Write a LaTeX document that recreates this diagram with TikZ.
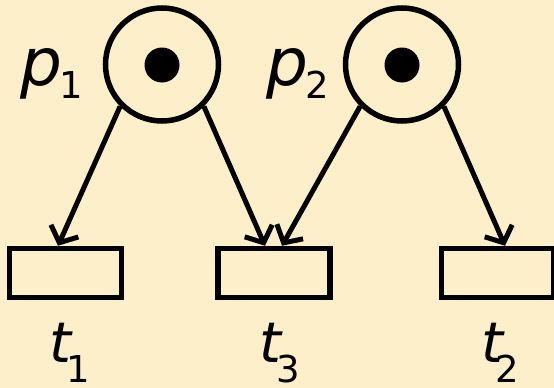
\documentclass[tikz,border=0pt]{standalone}
\usepackage{fontspec}
\setmainfont{DejaVu Sans}
\usetikzlibrary{arrows.meta}
\definecolor{bg}{RGB}{253,239,201}
\begin{document}
\begin{tikzpicture}[x=1pt,y=-1pt,
  place/.style={circle,draw,line width=5.5pt,minimum size=113pt,inner sep=0},
  tokendot/.style={circle,fill,minimum size=35pt,inner sep=0},
  trans/.style={rectangle,draw,line width=5.5pt,minimum width=112pt,minimum height=49pt,inner sep=0},
  arc/.style={line width=5pt,-{Straight Barb[length=13pt,width=30pt,line width=5pt]}},
  lbl/.style={inner sep=0,anchor=base west,font=\fontsize{66}{66}\selectfont\itshape},
  tlbl/.style={inner sep=0,anchor=base west,font=\fontsize{56}{56}\selectfont\itshape}]
\fill[bg] (0,0) rectangle (554,388);
\useasboundingbox (0,0) rectangle (554,388);
% places
\node[place] (p1) at (162,64.5) {};
\node[place] (p2) at (402,64.5) {};
\node[tokendot] (k1) at (162,65) {};
\node[tokendot] (k2) at (402,65) {};
% transitions
\node[trans] (t1) at (65.5,273) {};
\node[trans] (t3) at (274,273) {};
\node[trans] (t2) at (497.5,273) {};
% arcs
\draw[arc] (p1.225) -- ([xshift=-7.5pt]t1.north);
\draw[arc] (p1.315) -- ([xshift=-9pt]t3.north);
\draw[arc] (p2.225) -- ([xshift=8pt]t3.north);
\draw[arc] (p2.315) -- ([xshift=7.5pt]t2.north);
% labels
\node[lbl] (lp1) at (20,85) {p\kern-3pt\raisebox{-13pt}{\fontsize{37}{37}\selectfont\upshape 1}};
\node[lbl] (lp2) at (266,85) {p\kern-3pt\raisebox{-13pt}{\fontsize{37}{37}\selectfont\upshape 2}};
\node[tlbl] (lt1) at (49,362) {t\kern-5pt\raisebox{-20pt}{\fontsize{37}{37}\selectfont\upshape 1}};
\node[tlbl] (lt3) at (259,362) {t\kern-5pt\raisebox{-20pt}{\fontsize{37}{37}\selectfont\upshape 3}};
\node[tlbl] (lt2) at (481,362) {t\kern-8pt\raisebox{-20pt}{\fontsize{37}{37}\selectfont\upshape 2}};
\end{tikzpicture}
\end{document}
